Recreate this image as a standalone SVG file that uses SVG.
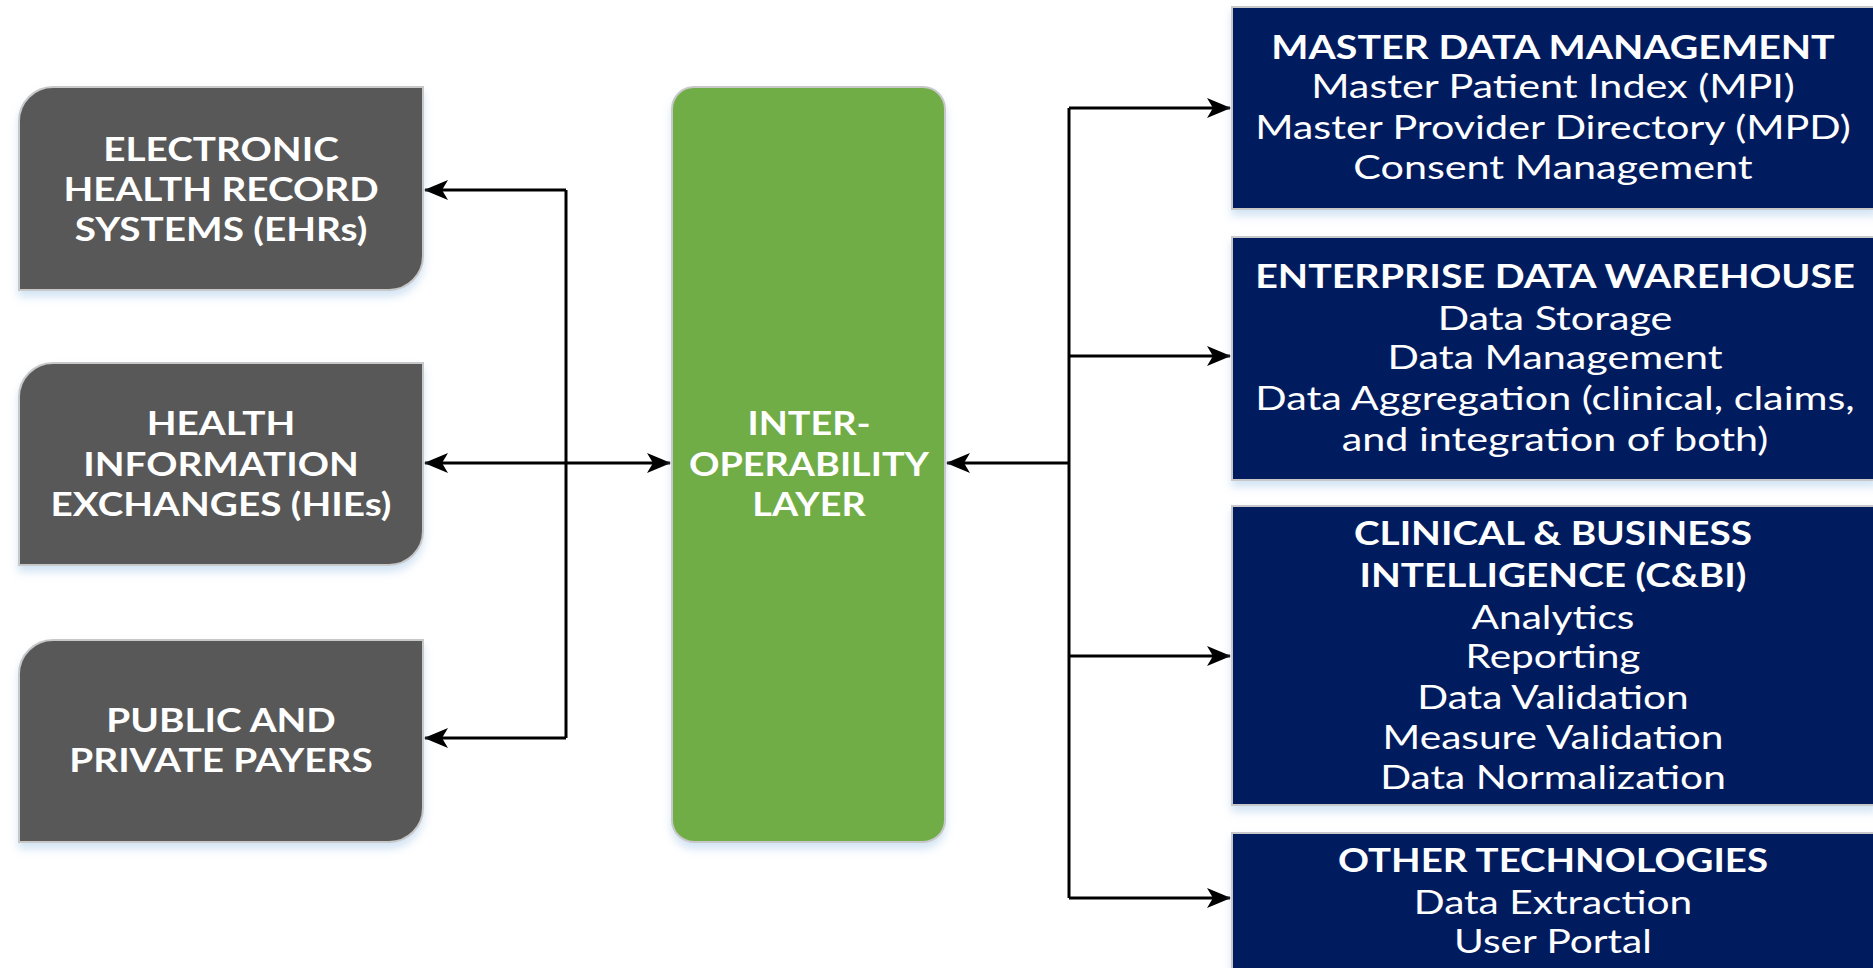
<svg xmlns="http://www.w3.org/2000/svg" width="1873" height="968" viewBox="0 0 1873 968">
<defs>
<style>
.gray{fill:#595959;stroke:#c8c8c8;stroke-width:2}
.green{fill:#70ad47;stroke:#c8c8c8;stroke-width:2}
.navy{fill:#001f5f;stroke:#c8c8c8;stroke-width:2}
.t{font-family:Lato,"Open Sans","Liberation Sans",sans-serif;fill:#ffffff;text-anchor:middle;font-size:32px}
.b{font-weight:700}
.line{stroke:#000;stroke-width:3;fill:none}
</style>
<filter id="sh" x="-10%" y="-10%" width="120%" height="130%">
<feDropShadow dx="0" dy="6" stdDeviation="4" flood-color="#9dc3e6" flood-opacity="0.45"/>
</filter>
<marker id="ah" viewBox="0 0 24 20" refX="23" refY="10" markerWidth="24" markerHeight="20" markerUnits="userSpaceOnUse" orient="auto-start-reverse">
<path d="M0,0 L24,10 L0,20 L6,10 Z" fill="#000"/>
</marker>
</defs>
<rect width="1873" height="968" fill="#ffffff"/>

<g id="connectors">
<path class="line" d="M566,190 V738"/>
<path class="line" d="M566,190 H425" marker-end="url(#ah)"/>
<path class="line" d="M566,738 H425" marker-end="url(#ah)"/>
<path class="line" d="M425,463 H670" marker-start="url(#ah)" marker-end="url(#ah)"/>
<path class="line" d="M1069,108 V898"/>
<path class="line" d="M1069,463 H947" marker-end="url(#ah)"/>
<path class="line" d="M1069,108 H1230" marker-end="url(#ah)"/>
<path class="line" d="M1069,356 H1230" marker-end="url(#ah)"/>
<path class="line" d="M1069,656 H1230" marker-end="url(#ah)"/>
<path class="line" d="M1069,898 H1230" marker-end="url(#ah)"/>
</g>

<g id="ehr">
<path class="gray" filter="url(#sh)" d="M53,87 H423 V256 A34,34 0 0 1 389,290 H19 V121 A34,34 0 0 1 53,87 Z"/>
<g transform="translate(221,0) scale(1.21,1)">
<text class="t b" x="0" y="161">ELECTRONIC</text>
<text class="t b" x="0" y="201">HEALTH RECORD</text>
<text class="t b" x="0" y="241">SYSTEMS (EHRs)</text>
</g>
</g>

<g id="hie">
<path class="gray" filter="url(#sh)" d="M53,363 H423 V531 A34,34 0 0 1 389,565 H19 V397 A34,34 0 0 1 53,363 Z"/>
<g transform="translate(221,0) scale(1.21,1)">
<text class="t b" x="0" y="435">HEALTH</text>
<text class="t b" x="0" y="476">INFORMATION</text>
<text class="t b" x="0" y="516">EXCHANGES (HIEs)</text>
</g>
</g>

<g id="payers">
<path class="gray" filter="url(#sh)" d="M53,640 H423 V808 A34,34 0 0 1 389,842 H19 V674 A34,34 0 0 1 53,640 Z"/>
<g transform="translate(221,0) scale(1.21,1)">
<text class="t b" x="0" y="732">PUBLIC AND</text>
<text class="t b" x="0" y="772">PRIVATE PAYERS</text>
</g>
</g>

<g id="interop">
<rect class="green" filter="url(#sh)" x="672" y="87" width="273" height="755" rx="22"/>
<g transform="translate(809,0) scale(1.18,1)">
<text class="t b" x="0" y="435">INTER-</text>
<text class="t b" x="0" y="476">OPERABILITY</text>
<text class="t b" x="0" y="516">LAYER</text>
</g>
</g>

<g id="mdm">
<rect class="navy" filter="url(#sh)" x="1232" y="7" width="645" height="202"/>
<g transform="translate(1553,0)">
<text class="t b" x="0" y="59" transform="scale(1.23,1)">MASTER DATA MANAGEMENT</text>
<g transform="scale(1.29,1)">
<text class="t" x="0" y="98">Master Patient Index (MPI)</text>
<text class="t" x="0" y="139">Master Provider Directory (MPD)</text>
<text class="t" x="0" y="179">Consent Management</text>
</g>
</g>
</g>

<g id="edw">
<rect class="navy" filter="url(#sh)" x="1232" y="237" width="645" height="243"/>
<g transform="translate(1555,0)">
<text class="t b" x="0" y="288" transform="scale(1.23,1)">ENTERPRISE DATA WAREHOUSE</text>
<g transform="scale(1.29,1)">
<text class="t" x="0" y="330">Data Storage</text>
<text class="t" x="0" y="369">Data Management</text>
<text class="t" x="0" y="410">Data Aggregation (clinical, claims,</text>
<text class="t" x="0" y="451">and integration of both)</text>
</g>
</g>
</g>

<g id="cbi">
<rect class="navy" filter="url(#sh)" x="1232" y="506" width="645" height="299"/>
<g transform="translate(1553,0)">
<g transform="scale(1.21,1)">
<text class="t b" x="0" y="545">CLINICAL &amp; BUSINESS</text>
<text class="t b" x="0" y="587">INTELLIGENCE (C&amp;BI)</text>
</g>
<g transform="scale(1.27,1)">
<text class="t" x="0" y="629">Analytics</text>
<text class="t" x="0" y="668">Reporting</text>
<text class="t" x="0" y="709">Data Validation</text>
<text class="t" x="0" y="749">Measure Validation</text>
<text class="t" x="0" y="789">Data Normalization</text>
</g>
</g>
</g>

<g id="other">
<rect class="navy" filter="url(#sh)" x="1232" y="833" width="645" height="150"/>
<g transform="translate(1553,0)">
<text class="t b" x="0" y="872" transform="scale(1.2,1)">OTHER TECHNOLOGIES</text>
<g transform="scale(1.27,1)">
<text class="t" x="0" y="914">Data Extraction</text>
<text class="t" x="0" y="953">User Portal</text>
</g>
</g>
</g>
</svg>
